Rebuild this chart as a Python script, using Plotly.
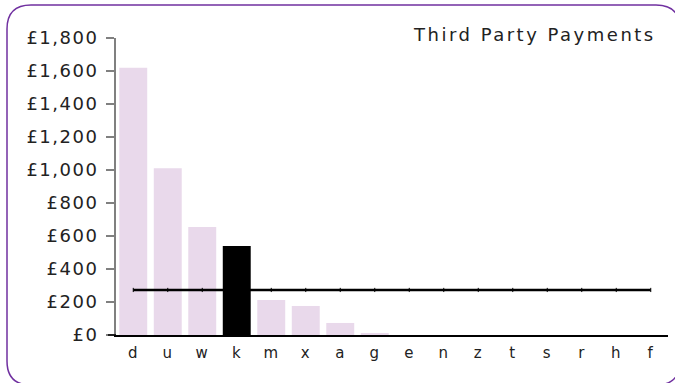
import plotly.graph_objects as go

# Payments per entity, sorted by size
categories = ["d", "u", "w", "k", "m", "x", "a", "g", "e", "n", "z", "t", "s", "r", "h", "f"]
payments = [1620, 1010, 655, 540, 212, 176, 73, 10, 0, 0, 0, 0, 0, 0, 0, 0]
highlight = "k"
average = 273
y_ticks = [0, 200, 400, 600, 800, 1000, 1200, 1400, 1600, 1800]
y_tick_text = ["£0", "£200", "£400", "£600", "£800", "£1,000", "£1,200", "£1,400", "£1,600", "£1,800"]

W, H = 675, 383
ML, MR, MT, MB = 116, 7, 38, 48
PW, PH = W - ML - MR, H - MT - MB

bar_colors = ["#000000" if c == highlight else "#E9D9EB" for c in categories]

fig = go.Figure()
fig.add_trace(go.Bar(
    x=categories, y=payments,
    marker=dict(color=bar_colors, line=dict(width=0)),
    hoverinfo="x+y",
))
fig.add_trace(go.Scatter(
    x=categories, y=[average] * len(categories),
    mode="lines+markers",
    line=dict(color="#000000", width=2.5),
    marker=dict(symbol="line-ns", size=3, line=dict(width=1, color="#000000")),
    hoverinfo="y",
))


def px(x):
    return (x - ML) / PW


def py(y):
    return (H - MB - y) / PH


# rounded frame around the whole chart
l, t, r, b, rad = 7, 5, 680, 385, 24
frame = (
    f"M {px(l + rad)},{py(t)} L {px(r - rad)},{py(t)} "
    f"Q {px(r)},{py(t)} {px(r)},{py(t + rad)} L {px(r)},{py(b - rad)} "
    f"Q {px(r)},{py(b)} {px(r - rad)},{py(b)} L {px(l + rad)},{py(b)} "
    f"Q {px(l)},{py(b)} {px(l)},{py(b - rad)} L {px(l)},{py(t + rad)} "
    f"Q {px(l)},{py(t)} {px(l + rad)},{py(t)} Z"
)

fig.update_layout(
    width=W, height=H,
    margin=dict(l=ML, r=MR, t=MT, b=MB),
    paper_bgcolor="white", plot_bgcolor="white",
    showlegend=False,
    bargap=0.19,
    font=dict(family="DejaVu Sans", size=18, color="#222222"),
    xaxis=dict(
        type="category", range=[-0.5, len(categories) - 0.5],
        showgrid=False, zeroline=False,
        showline=True, linecolor="#000000", linewidth=1.5,
        ticks="", tickfont=dict(size=15), ticklabelstandoff=3,
    ),
    yaxis=dict(
        range=[0, 1800], tickvals=y_ticks, ticktext=y_tick_text,
        showgrid=False, zeroline=False,
        showline=True, linecolor="#808080", linewidth=2,
        ticks="outside", ticklen=8, tickwidth=1.5, tickcolor="#808080",
        ticklabelstandoff=4,
    ),
    shapes=[
        dict(type="path", xref="paper", yref="paper", path=frame,
             line=dict(color="#7030A0", width=1.5), layer="below"),
        dict(type="line", xref="paper", yref="paper",
             x0=px(108), x1=px(116), y0=0, y1=0,
             line=dict(color="#000000", width=1.5)),
    ],
    annotations=[
        dict(text="Third Party Payments", xref="paper", yref="paper",
             x=px(534), y=py(34), xanchor="center", yanchor="middle",
             showarrow=False, font=dict(size=18, color="#222222")),
    ],
)

# widen the letter spacing of the chart texts
spacing_js = """
var gd = document.getElementsByClassName('plotly-graph-div')[0];
function spaceText() {
  gd.querySelectorAll('.ytick text').forEach(function (el) { el.style.letterSpacing = '1.5px'; });
  gd.querySelectorAll('.xtick text').forEach(function (el) { el.style.letterSpacing = '1px'; });
  gd.querySelectorAll('.annotation-text').forEach(function (el) { el.style.letterSpacing = '2.5px'; });
}
spaceText();
gd.on('plotly_afterplot', spaceText);
"""

fig.write_html("out.html", post_script=spacing_js)
